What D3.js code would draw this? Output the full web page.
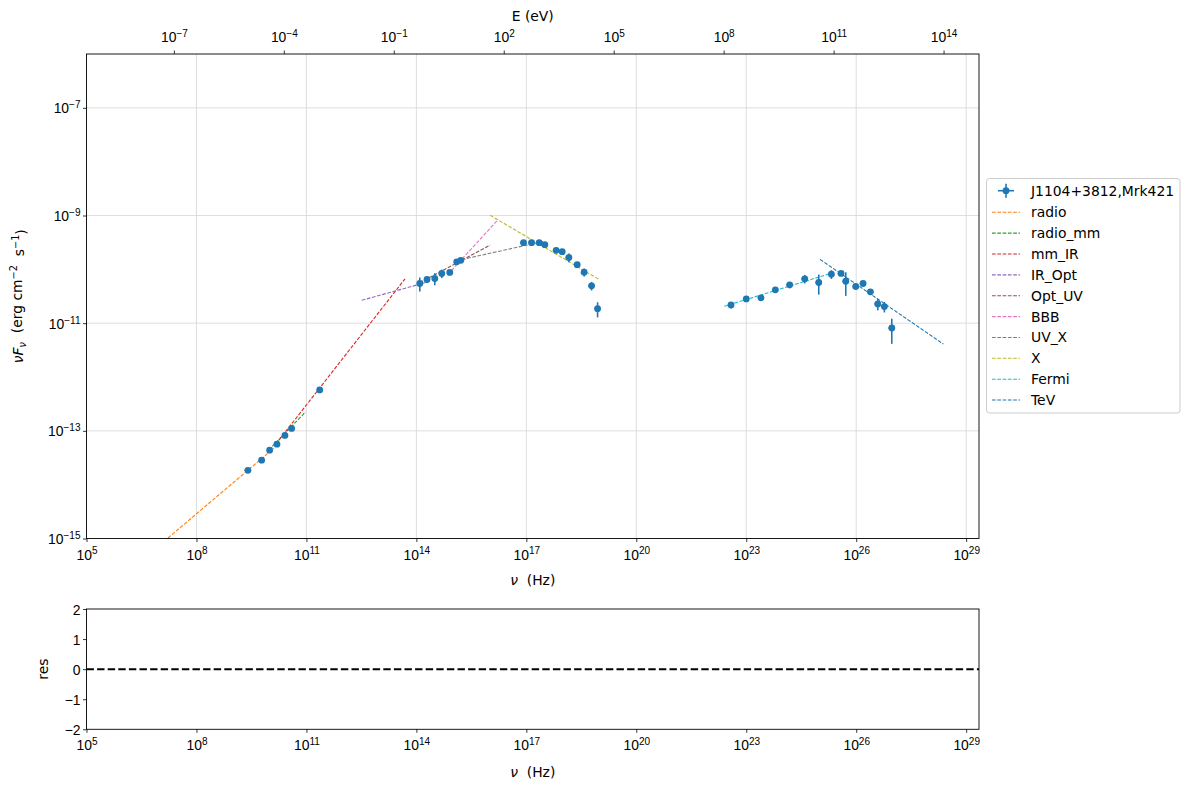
<!DOCTYPE html>
<html><head><meta charset="utf-8">
<script src="https://cdn.jsdelivr.net/npm/d3@7"></script>
<style>
body{margin:0;background:#fff;}
svg{font-family:"DejaVu Sans",sans-serif;}
text{white-space:pre;}
</style></head>
<body><svg id="chart" width="1189" height="789"></svg>
<script>
// ---- data ----
const nu = [2.54e9, 6.0e9, 9.93e9, 1.57e10, 2.59e10, 3.95e10, 2.30e11,
  1.24e14, 1.95e14, 3.18e14, 4.93e14, 8.15e14, 1.26e15, 1.63e15,
  8.39e16, 1.39e17, 2.24e17, 3.20e17, 6.52e17, 9.51e17, 1.45e18, 2.44e18, 3.78e18, 6.03e18, 8.79e18,
  3.84e22, 1.00e23, 2.53e23, 6.22e23, 1.53e24, 3.94e24, 9.51e24, 2.10e25, 3.86e25, 5.19e25,
  9.73e25, 1.54e26, 2.44e26, 3.88e26, 5.87e26, 9.35e26];
const nuFnu = [1.85e-14, 2.85e-14, 4.38e-14, 5.66e-14, 8.22e-14, 1.11e-13, 5.75e-13,
  5.46e-11, 6.47e-11, 6.76e-11, 8.38e-11, 8.75e-11, 1.38e-10, 1.47e-10,
  3.13e-10, 3.13e-10, 3.13e-10, 2.87e-10, 2.25e-10, 2.13e-10, 1.66e-10, 1.22e-10, 8.85e-11, 4.94e-11, 1.86e-11,
  2.18e-11, 2.82e-11, 2.95e-11, 4.16e-11, 5.15e-11, 6.67e-11, 5.69e-11, 8.13e-11, 8.38e-11, 6.01e-11,
  4.80e-11, 5.46e-11, 3.82e-11, 2.28e-11, 2.03e-11, 8.13e-12];
const nuErr = [5e8, 6e8, 1e9, 1.5e9, 2.5e9, 4e9, 2e10,
  1e13, 1e13, 2e13, 3e13, 5e13, 8e13, 1e14,
  1.6e16, 2.6e16, 4e16, 6e16, 1.2e17, 1.8e17, 2.8e17, 4.5e17, 7e17, 1.1e18, 1.6e18,
  7e21, 1.9e22, 4.8e22, 1.2e23, 2.9e23, 7.5e23, 1.8e24, 4e24, 7.3e24, 9.8e24,
  1.8e25, 2.9e25, 4.6e25, 7.4e25, 1.1e26, 1.8e26];
const nuFnuErr = [1e-15, 1.5e-15, 2.5e-15, 3e-15, 4e-15, 5e-15, 2.5e-14,
  1.6e-11, 8e-12, 1.7e-11, 1.5e-11, 6e-12, 8e-12, 8e-12,
  1e-11, 1e-11, 1e-11, 1e-11, 1e-11, 1e-11, 3e-11, 1.5e-11, 1.5e-11, 9e-12, 5.8e-12,
  3e-12, 3e-12, 3e-12, 4e-12, 7e-12, 1.2e-11, 2.3e-11, 1.5e-11, 6e-12, 2.8e-11,
  5e-12, 5e-12, 5e-12, 5.5e-12, 4.5e-12, 4e-12];

const modelNames = ["radio", "radio_mm", "mm_IR", "IR_Opt", "Opt_UV", "BBB", "UV_X", "X", "Fermi", "TeV"];
const modelNu = [[1e7, 1.28e10], [9.31e9, 9.55e10], [1.78e10, 4.91e13], [3.23e12, 1.80e14], [1.24e14, 1.03e16],
  [7.19e14, 1.57e16], [1.26e15, 3.06e17], [1.03e16, 9.73e18], [2.52e22, 2.29e25], [1.03e25, 2.40e28]];
const modelNuFnu = [[7.62e-16, 4.71e-14], [4.38e-14, 2.26e-13], [6.73e-14, 6.67e-11], [2.66e-11, 5.69e-11], [5.62e-11, 2.82e-10],
  [8.02e-11, 7.91e-10], [1.45e-10, 3.32e-10], [1.01e-9, 6.47e-11], [2.06e-11, 8.63e-11], [1.53e-10, 4.09e-12]];
const modelColors = ["#ff7f0e", "#2ca02c", "#d62728", "#9467bd", "#8c564b", "#e377c2", "#7f7f7f", "#bcbd22", "#17becf", "#1f77b4"];

const sourceName = "J1104+3812,Mrk421";
const xTickExps = [5, 8, 11, 14, 17, 20, 23, 26, 29];
const yTickExps = [-15, -13, -11, -9, -7];
const eTickExps = [-7, -4, -1, 2, 5, 8, 11, 14];
const resTicks = [-2, -1, 0, 1, 2];
const hPlanck = 4.135667e-15; // eV s

// ---- layout ----
const svg = d3.select("#chart");
const L = 86.5, R = 979, T = 54, B = 538.5;
const rT = 609, rB = 729.3;
const FS = 13.9;
const x = d3.scaleLog().domain([1e5, Math.pow(10, 29.35)]).range([L, R]);
const y = d3.scaleLog().domain([1e-15, 1e-6]).range([B, T]);
const e = d3.scaleLog().domain([1e5 * hPlanck, Math.pow(10, 29.35) * hPlanck]).range([L, R]);
const yr = d3.scaleLinear().domain([-2, 2]).range([rB, rT]);

function sup(textSel, base, exp) {
  textSel.text(null);
  textSel.append("tspan").text(base);
  textSel.append("tspan").attr("dy", "-0.5em").attr("font-size", "0.72em").text(exp);
}
const fmtExp = n => (n < 0 ? "\u2212" + (-n) : "" + n);
const minus = n => (n < 0 ? "\u2212" + (-n) : "" + n);

// grid
const grid = svg.append("g");
xTickExps.forEach(k => {
  const px = x(Math.pow(10, k));
  if (px > L + 1 && px < R - 0.5)
    grid.append("line").attr("x1", px).attr("x2", px).attr("y1", T).attr("y2", B).attr("stroke", "#d6d6d6").attr("stroke-width", 0.8);
});
yTickExps.forEach(k => {
  const py = y(Math.pow(10, k));
  if (py < B - 1 && py > T)
    grid.append("line").attr("x1", L).attr("x2", R).attr("y1", py).attr("y2", py).attr("stroke", "#d6d6d6").attr("stroke-width", 0.8);
});

// clip
svg.append("clipPath").attr("id", "clip").append("rect").attr("x", L).attr("y", T).attr("width", R - L).attr("height", B - T);
const plot = svg.append("g").attr("clip-path", "url(#clip)");

// model lines
const line = d3.line().x(d => x(d[0])).y(d => y(d[1]));
modelNames.forEach((n, i) => {
  const pts = [[modelNu[i][0], modelNuFnu[i][0]], [modelNu[i][1], modelNuFnu[i][1]]];
  plot.append("path").attr("d", line(pts)).attr("fill", "none").attr("stroke", modelColors[i])
    .attr("stroke-width", 1.1).attr("stroke-dasharray", "3.7,1.6");
});

// data with error bars
const dcol = "#1f77b4";
nu.forEach((v, i) => {
  const px = x(v), py = y(nuFnu[i]);
  const lo = Math.max(nuFnu[i] - nuFnuErr[i], 1e-20);
  plot.append("line").attr("x1", px).attr("x2", px).attr("y1", y(lo)).attr("y2", y(nuFnu[i] + nuFnuErr[i]))
    .attr("stroke", dcol).attr("stroke-width", 1.6);
  plot.append("line").attr("x1", x(v - nuErr[i])).attr("x2", x(v + nuErr[i])).attr("y1", py).attr("y2", py)
    .attr("stroke", dcol).attr("stroke-width", 1.6);
  plot.append("circle").attr("cx", px).attr("cy", py).attr("r", 3.4).attr("fill", dcol);
});

// frame main
svg.append("rect").attr("x", L).attr("y", T).attr("width", R - L).attr("height", B - T)
  .attr("fill", "none").attr("stroke", "#000").attr("stroke-width", 0.9);

// bottom x axis main
const xAxis = d3.axisBottom(x).tickValues(xTickExps.map(k => Math.pow(10, k))).tickSize(3.5).tickPadding(3.5).tickFormat("");
function styleAxis(g) {
  g.select(".domain").remove();
  g.selectAll(".tick line").attr("stroke", "#000").attr("stroke-width", 0.8);
}
const gx = svg.append("g").attr("transform", `translate(0,${B})`).call(xAxis).call(styleAxis);
gx.selectAll(".tick").each(function (d) {
  const t = d3.select(this).append("text").attr("y", 21).attr("fill", "#000").attr("font-size", FS).attr("text-anchor", "middle");
  sup(t, "10", fmtExp(Math.round(Math.log10(d))));
});

// left y axis main
const yAxis = d3.axisLeft(y).tickValues(yTickExps.map(k => Math.pow(10, k))).tickSize(3.5).tickFormat("");
const gy = svg.append("g").attr("transform", `translate(${L},0)`).call(yAxis).call(styleAxis);
gy.selectAll(".tick").each(function (d) {
  const t = d3.select(this).append("text").attr("x", -6).attr("y", 5).attr("fill", "#000").attr("font-size", FS).attr("text-anchor", "end");
  sup(t, "10", fmtExp(Math.round(Math.log10(d))));
});

// top energy axis
const eAxis = d3.axisTop(e).tickValues(eTickExps.map(k => Math.pow(10, k))).tickSize(3.5).tickFormat("");
const ge = svg.append("g").attr("transform", `translate(0,${T})`).call(eAxis).call(styleAxis);
ge.selectAll(".tick").each(function (d) {
  const t = d3.select(this).append("text").attr("y", -12).attr("fill", "#000").attr("font-size", FS).attr("text-anchor", "middle");
  sup(t, "10", fmtExp(Math.round(Math.log10(d))));
});
svg.append("text").attr("x", (L + R) / 2).attr("y", 21).attr("text-anchor", "middle").attr("font-size", FS).text("E (eV)");

// axis labels main
const xl = svg.append("text").attr("x", (L + R) / 2).attr("y", 585).attr("text-anchor", "middle").attr("font-size", FS);
xl.append("tspan").attr("font-style", "italic").text("\u03bd");
xl.append("tspan").text("  (Hz)");

const yl = svg.append("text").attr("transform", `translate(23,${(T + B) / 2}) rotate(-90)`).attr("text-anchor", "middle").attr("font-size", FS);
yl.append("tspan").attr("font-style", "italic").text("\u03bdF");
yl.append("tspan").attr("font-style", "italic").attr("font-size", "0.7em").attr("dy", "0.3em").text("\u03bd");
yl.append("tspan").attr("dy", "-0.3em").text("  (erg cm");
yl.append("tspan").attr("font-size", "0.7em").attr("dy", "-0.5em").text("\u22122");
yl.append("tspan").attr("dy", "0.5em").text("  s");
yl.append("tspan").attr("font-size", "0.7em").attr("dy", "-0.5em").text("\u22121");
yl.append("tspan").attr("dy", "0.5em").text(")");

// legend
const lg = svg.append("g");
lg.append("rect").attr("x", 986.5).attr("y", 178.5).attr("width", 193.5).attr("height", 234.5).attr("rx", 3)
  .attr("fill", "#fff").attr("fill-opacity", 0.8).attr("stroke", "#cccccc").attr("stroke-width", 1);
const ly0 = 190.7, ly1 = 212.3, ldy = 20.86;
lg.append("line").attr("x1", 998).attr("x2", 1014).attr("y1", ly0).attr("y2", ly0).attr("stroke", dcol).attr("stroke-width", 1.6);
lg.append("line").attr("x1", 1006).attr("x2", 1006).attr("y1", ly0 - 7).attr("y2", ly0 + 7).attr("stroke", dcol).attr("stroke-width", 1.6);
lg.append("circle").attr("cx", 1006).attr("cy", ly0).attr("r", 3.4).attr("fill", dcol);
lg.append("text").attr("x", 1031).attr("y", ly0 + 5).attr("font-size", FS).text(sourceName);
modelNames.forEach((n, i) => {
  const yy = ly1 + ldy * i;
  lg.append("line").attr("x1", 992).attr("x2", 1020).attr("y1", yy).attr("y2", yy)
    .attr("stroke", modelColors[i]).attr("stroke-width", 1.1).attr("stroke-dasharray", "3.7,1.6");
  lg.append("text").attr("x", 1031).attr("y", yy + 5).attr("font-size", FS).text(n);
});

// ---- residual panel ----
svg.append("rect").attr("x", L).attr("y", rT).attr("width", R - L).attr("height", rB - rT)
  .attr("fill", "none").attr("stroke", "#000").attr("stroke-width", 0.9);
svg.append("line").attr("x1", L).attr("x2", R).attr("y1", yr(0)).attr("y2", yr(0))
  .attr("stroke", "#000").attr("stroke-width", 2).attr("stroke-dasharray", "7.4,3.2");

const gxr = svg.append("g").attr("transform", `translate(0,${rB})`).call(xAxis).call(styleAxis);
gxr.selectAll(".tick").each(function (d) {
  const t = d3.select(this).append("text").attr("y", 21).attr("fill", "#000").attr("font-size", FS).attr("text-anchor", "middle");
  sup(t, "10", fmtExp(Math.round(Math.log10(d))));
});
const yrAxis = d3.axisLeft(yr).tickValues(resTicks).tickSize(3.5).tickFormat("");
const gyr = svg.append("g").attr("transform", `translate(${L},0)`).call(yrAxis).call(styleAxis);
gyr.selectAll(".tick").append("text").attr("x", -6).attr("y", 5).attr("fill", "#000").attr("font-size", FS)
  .attr("text-anchor", "end").text(d => minus(d));

const xl2 = svg.append("text").attr("x", (L + R) / 2).attr("y", 777).attr("text-anchor", "middle").attr("font-size", FS);
xl2.append("tspan").attr("font-style", "italic").text("\u03bd");
xl2.append("tspan").text("  (Hz)");
svg.append("text").attr("transform", `translate(48,${(rT + rB) / 2}) rotate(-90)`).attr("text-anchor", "middle")
  .attr("font-size", FS).text("res");
</script></body></html>
